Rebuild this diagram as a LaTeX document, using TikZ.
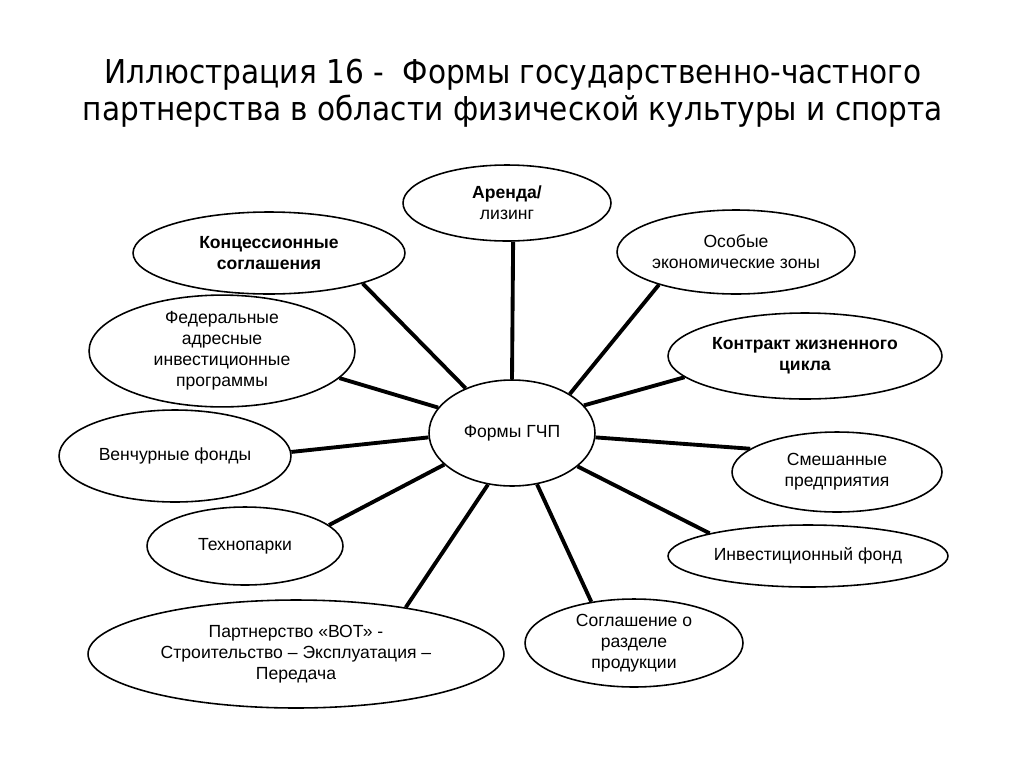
\documentclass[tikz,border=0pt]{standalone}
\usepackage{fontspec}
\setmainfont{Liberation Sans}
\newfontfamily\titlefont{DejaVu Sans Condensed}
\usetikzlibrary{shapes.geometric}

\begin{document}
\begin{tikzpicture}[x=0.02cm, y=-0.02cm,
    form/.style={ellipse, draw, line width=0.9pt, inner sep=0pt, align=center,
      font=\fontsize{10}{12}\selectfont},
    link/.style={line width=2.2pt}]

  \useasboundingbox (0,0) rectangle (1024,768);

  % -- Title --
  \node[font=\titlefont\fontsize{18.7}{21}\selectfont, align=center] (title) at (513,93)
    {Иллюстрация 16 -\ \ Формы государственно-частного\\партнерства в области физической культуры и спорта};

  % -- Centre --
  \node[form, minimum width=3.32cm, minimum height=2.12cm] (gchp) at (512,433) {Формы ГЧП};

  % -- Forms, upper half --
  \node[form, minimum width=4.16cm, minimum height=1.52cm] (arenda) at (507,203) {\textbf{Аренда/}\\лизинг};
  \node[form, minimum width=5.44cm, minimum height=1.64cm] (konc) at (269,253) {\textbf{Концессионные}\\\textbf{соглашения}};
  \node[form, minimum width=5.32cm, minimum height=2.12cm] (fed) at (222,351) {Федеральные\\адресные\\инвестиционные\\программы};
  \node[form, minimum width=4.76cm, minimum height=1.68cm] (osob) at (736,252) {Особые\\экономические зоны};
  \node[form, minimum width=5.48cm, minimum height=1.72cm] (kontr) at (805,356) {\textbf{Контракт жизненного}\\\textbf{цикла}};

  % -- Forms, lower half --
  \node[form, minimum width=4.64cm, minimum height=1.84cm] (vench) at (175,456) {Венчурные фонды};
  \node[form, minimum width=3.92cm, minimum height=1.56cm] (tech) at (245,546) {Технопарки};
  \node[form, minimum width=8.32cm, minimum height=2.16cm] (bot) at (296,654) {Партнерство «ВОТ» -\\Строительство – Эксплуатация –\\Передача};
  \node[form, minimum width=4.36cm, minimum height=1.76cm] (sogl) at (634,643) {Соглашение о\\разделе\\продукции};
  \node[form, minimum width=5.6cm, minimum height=1.24cm] (invest) at (808,556) {Инвестиционный фонд};
  \node[form, minimum width=4.2cm, minimum height=1.6cm] (smesh) at (837,472) {Смешанные\\предприятия};

  % -- Spokes --
  \draw[link] (gchp.90) -- (arenda.279);
  \draw[link] (gchp.136) -- (konc.342);
  \draw[link] (gchp.161) -- (fed.347);
  \draw[link] (gchp.183) -- (vench.2);
  \draw[link] (gchp.205) -- (tech.14);
  \draw[link] (gchp.245) -- (bot.23);
  \draw[link] (gchp.296) -- (sogl.136);
  \draw[link] (gchp.333) -- (invest.167);
  \draw[link] (gchp.357) -- (smesh.165);
  \draw[link] (gchp.21) -- (kontr.190);
  \draw[link] (gchp.34) -- (osob.203);

\end{tikzpicture}
\end{document}
